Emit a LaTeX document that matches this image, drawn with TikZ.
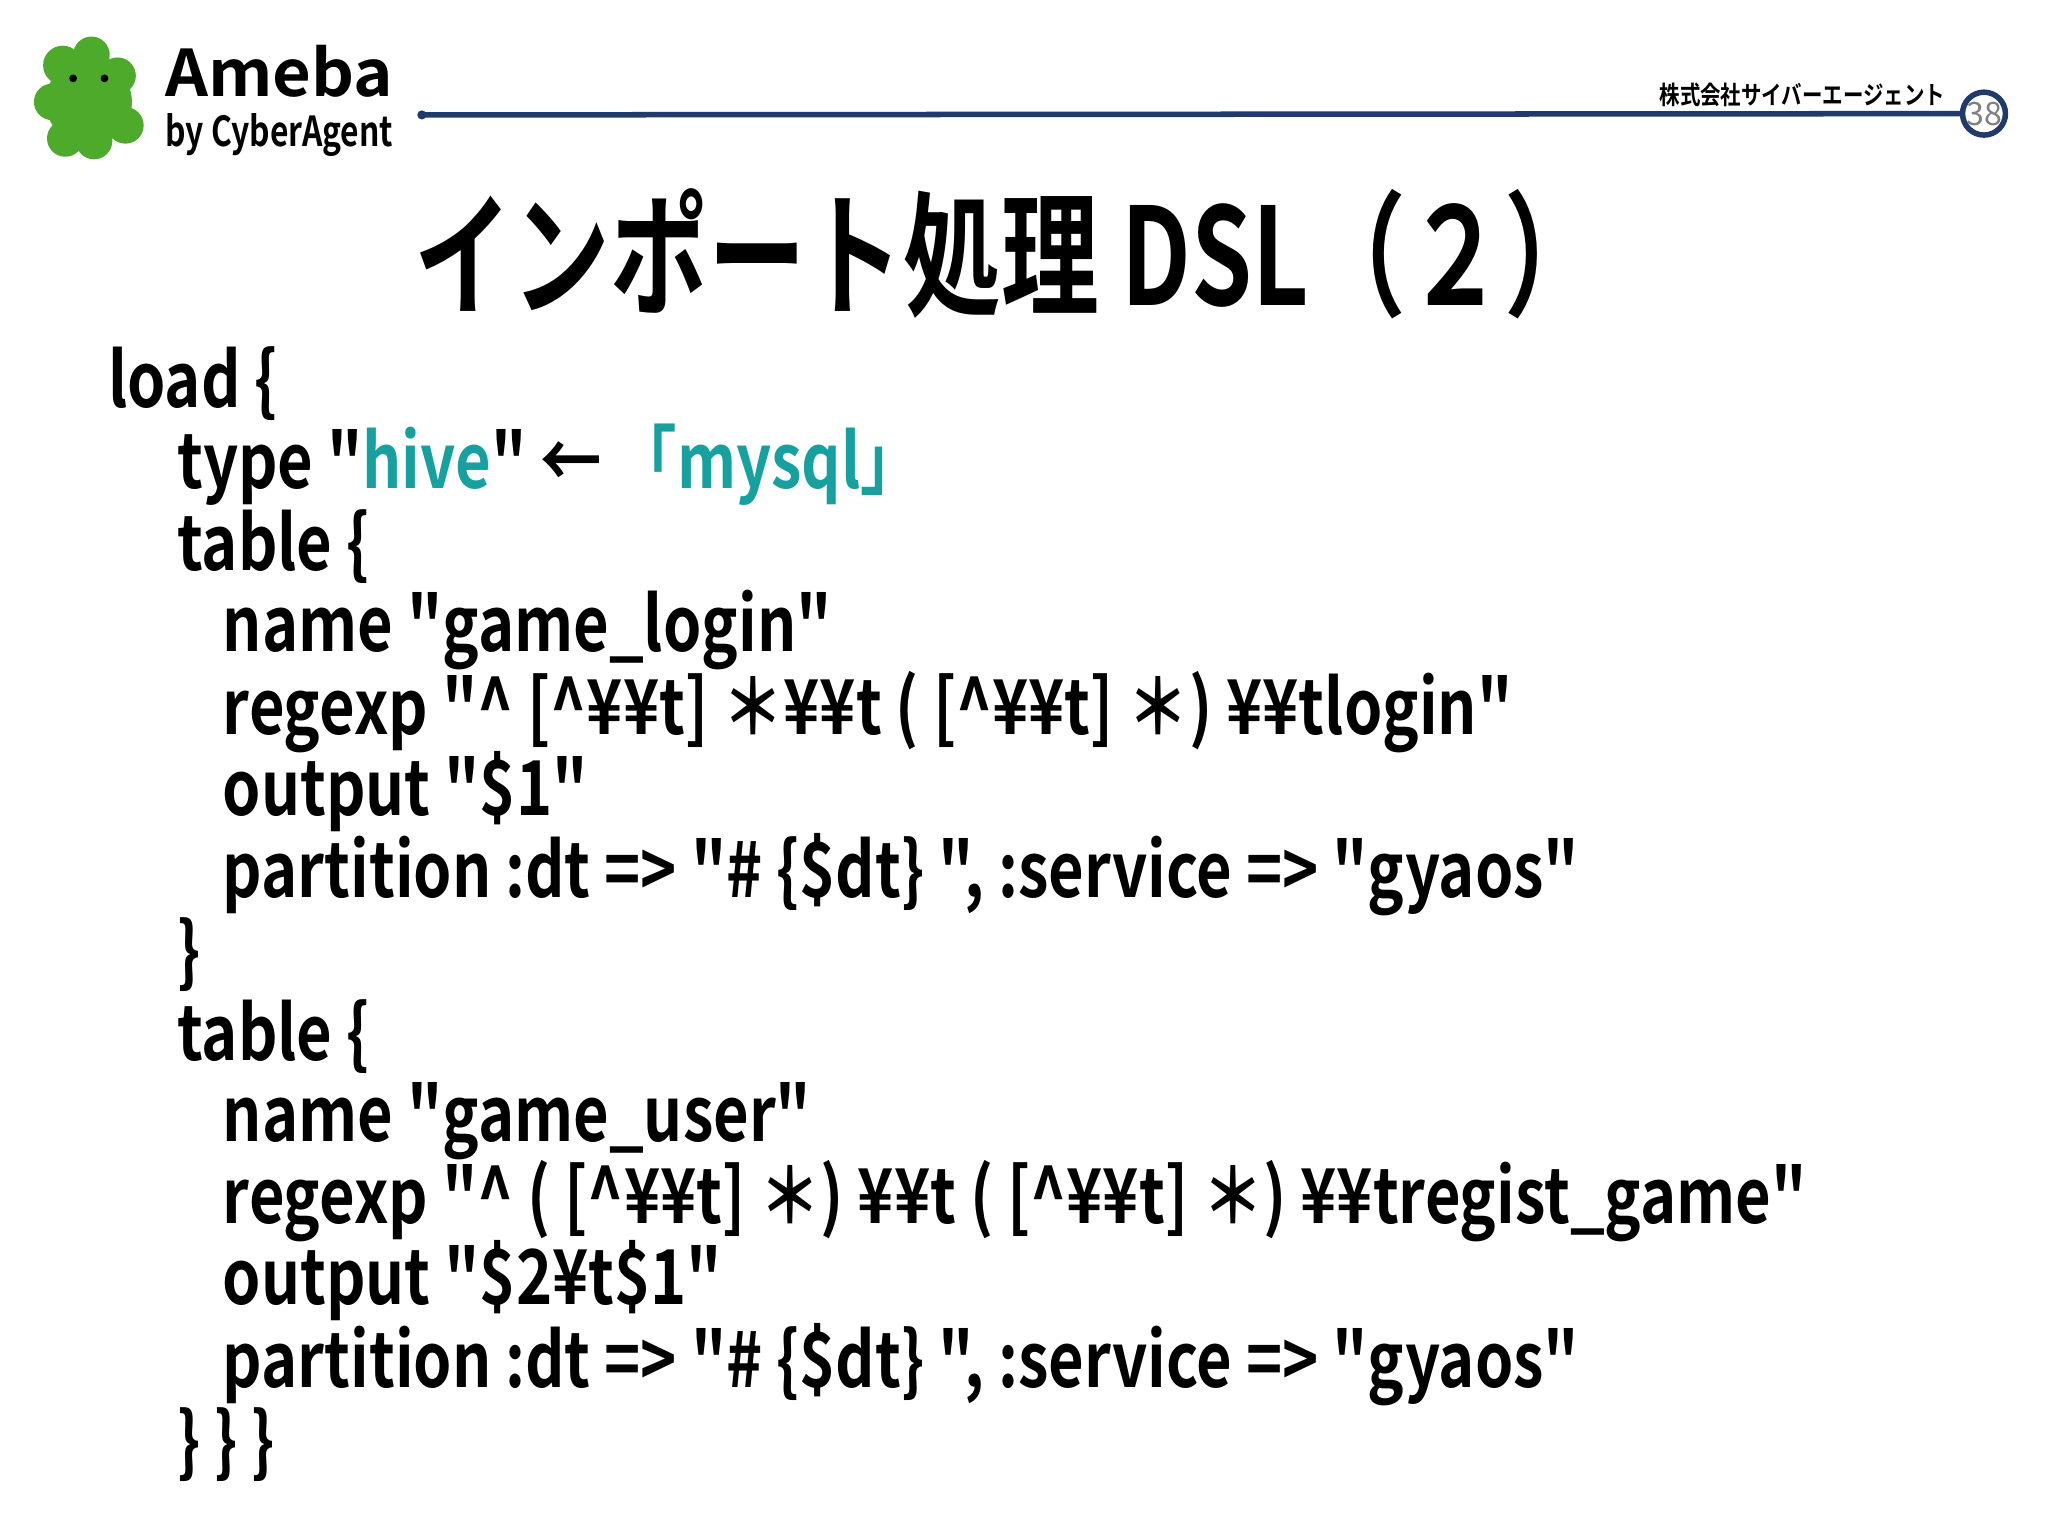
\documentclass[tikz,border=0pt]{standalone}
\usepackage{fontspec}
\setmainfont{Noto Sans CJK JP}[BoldFont={* Bold}]
\newfontfamily\jp{Noto Sans CJK JP Bold}
\definecolor{teal1}{HTML}{16A0A0}
\definecolor{navy}{HTML}{1F3A6B}
\definecolor{amgreen}{HTML}{4DAA2A}
\tikzset{code/.style={anchor=base west,inner sep=0pt,font=\fontsize{16.5}{16.5}\selectfont\jp},
hv/.style={text=teal1}}
\newcommand{\cx}[1]{\scalebox{0.81}[1]{#1}}
\begin{document}
\begin{tikzpicture}[x=0.01cm,y=-0.01cm]
\useasboundingbox (0,0) rectangle (1568,1176);
\fill[white] (0,0) rectangle (1568,1176);
% logo
\fill[amgreen] (68,78) circle (33) (48,50) circle (15) (70,42) circle (14) (90,58) circle (14) (40,78) circle (14) (96,96) circle (14) (50,106) circle (14) (72,108) circle (14);
\fill[black] (56,60) circle (3) (80,60) circle (3);
\node[anchor=base west,inner sep=0pt,font=\fontsize{14}{14}\selectfont\bfseries] (ameba) at (126,74) {\scalebox{1.04}[1]{Ameba}};
\node[anchor=base west,inner sep=0pt,font=\fontsize{9}{9}\selectfont\bfseries] (cyber) at (126,112) {\scalebox{0.77}[1]{by CyberAgent}};
% header
\fill[navy] (323,88) circle (3.5);
\node[draw=navy,line width=1.2pt,circle,minimum size=0.32cm,inner sep=0pt,font=\fontsize{7}{7}\selectfont,text=gray] (pg) at (1519,87) {38};
\coordinate (ls) at (323,88);
\draw[navy,line width=1.2pt] (ls) -- (pg.west);
\node[anchor=base east,inner sep=0pt,font=\fontsize{5.5}{5.5}\selectfont\jp] (co) at (1490,80) {\cx{株式会社サイバーエージェント}};
% title
\node[anchor=base,inner sep=0pt,font=\fontsize{28}{28}\selectfont\jp] (title) at (772,234) {\scalebox{0.76}[1.05]{インポート処理 DSL（２）}};
% code
\node[code] (l1) at (82,312) {\cx{load \{}};
\node[code] (l2) at (135,374) {\cx{type "{\color{teal1}hive}" ← {\color{teal1}「mysql」}}};
\node[code] (l3) at (135,437) {\cx{table \{}};
\node[code] (l4) at (170,499) {\cx{name "game\_login"}};
\node[code] (l5) at (170,562) {\cx{regexp "\^{} [\^{}¥¥t] ＊¥¥t ( [\^{}¥¥t] ＊) ¥¥tlogin"}};
\node[code] (l6) at (170,624) {\cx{output "\$1"}};
\node[code] (l7) at (170,687) {\cx{partition :dt => "\# \{\$dt\} ", :service => "gyaos"}};
\node[code] (l8) at (135,749) {\cx{\}}};
\node[code] (l9) at (135,812) {\cx{table \{}};
\node[code] (l10) at (170,874) {\cx{name "game\_user"}};
\node[code] (l11) at (170,937) {\cx{regexp "\^{} ( [\^{}¥¥t] ＊) ¥¥t ( [\^{}¥¥t] ＊) ¥¥tregist\_game"}};
\node[code] (l12) at (170,999) {\cx{output "\$2¥t\$1"}};
\node[code] (l13) at (170,1062) {\cx{partition :dt => "\# \{\$dt\} ", :service => "gyaos"}};
\node[code] (l14) at (135,1124) {\cx{\} \} \}}};
\end{tikzpicture}
\end{document}
